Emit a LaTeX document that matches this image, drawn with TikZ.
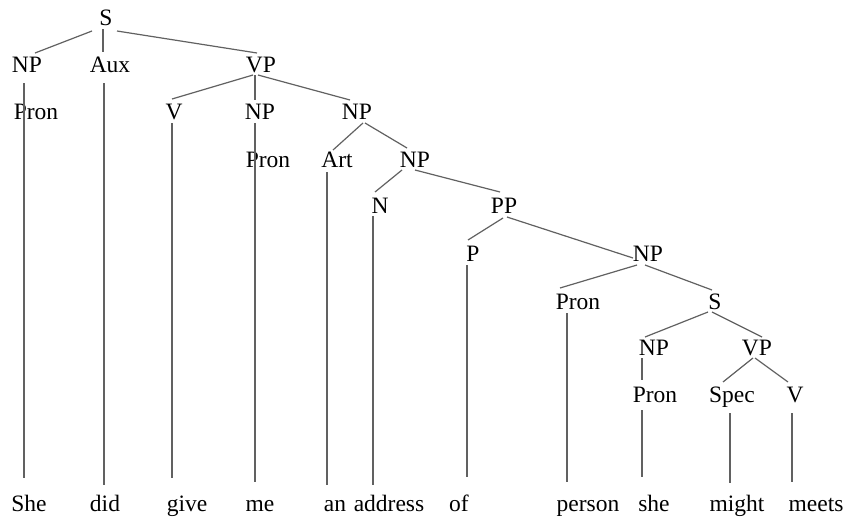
\documentclass[tikz,border=0pt]{standalone}
\usepackage{fontspec}
\setmainfont{Liberation Serif}
\begin{document}
\begin{tikzpicture}[x=1pt,y=-1pt,
  lab/.style={font=\fontsize{23.5}{28}\selectfont, text=black, inner sep=0pt, anchor=base},
  branch/.style={draw=black!62, line width=1.2pt}]
\useasboundingbox[fill=white] (0,0) rectangle (845,517);

% category labels
\node[lab] (s0)    at (106,25)  {S};
\node[lab] (np1)   at (27,72)   {NP};
\node[lab] (aux)   at (110,72)  {Aux};
\node[lab] (vp1)   at (261,72)  {VP};
\node[lab] (pron1) at (36,119)  {Pron};
\node[lab] (v1)    at (174,119) {V};
\node[lab] (np2)   at (260,119) {NP};
\node[lab] (np3)   at (357,119) {NP};
\node[lab] (pron2) at (268,167) {Pron};
\node[lab] (art)   at (337,167) {Art};
\node[lab] (np4)   at (415,167) {NP};
\node[lab] (nN)    at (380,213) {N};
\node[lab] (pp)    at (504,213) {PP};
\node[lab] (pP)    at (473,261) {P};
\node[lab] (np5)   at (648,261) {NP};
\node[lab] (pron3) at (578,309) {Pron};
\node[lab] (s2)    at (715,309) {S};
\node[lab] (np6)   at (654,355) {NP};
\node[lab] (vp2)   at (757,355) {VP};
\node[lab] (pron4) at (655,402) {Pron};
\node[lab] (spec)  at (732,402) {Spec};
\node[lab] (v2)    at (795,402) {V};

% words
\node[lab] (w1)  at (29,511)  {She};
\node[lab] (w2)  at (105,511) {did};
\node[lab] (w3)  at (187,511) {give};
\node[lab] (w4)  at (260,511) {me};
\node[lab] (w5)  at (335,511) {an};
\node[lab] (w6)  at (389,511) {address};
\node[lab] (w7)  at (459,511) {of};
\node[lab] (w8)  at (588,511) {person};
\node[lab] (w9)  at (654,511) {she};
\node[lab] (w10) at (737,511) {might};
\node[lab] (w11) at (816,511) {meets};

% branches
\draw[branch] ([xshift=-14pt,yshift=-6pt]s0.base) -- ([xshift=8pt,yshift=19pt]np1.base);
\draw[branch] ([xshift=-3pt,yshift=-4pt]s0.base) -- ([xshift=-7pt,yshift=20pt]aux.base);
\draw[branch] ([xshift=11pt,yshift=-6pt]s0.base) -- ([xshift=-4pt,yshift=19pt]vp1.base);
\draw[branch] ([xshift=-8pt,yshift=-3pt]vp1.base) -- ([xshift=-2pt,yshift=20pt]v1.base);
\draw[branch] ([xshift=-6pt,yshift=-3pt]vp1.base) -- ([xshift=-5pt,yshift=19pt]np2.base);
\draw[branch] ([xshift=-3pt,yshift=-3pt]vp1.base) -- ([xshift=-7pt,yshift=19pt]np3.base);
\draw[branch] ([xshift=6pt,yshift=-4pt]np3.base) -- ([xshift=-4pt,yshift=17pt]art.base);
\draw[branch] ([xshift=8pt,yshift=-4pt]np3.base) -- ([xshift=-8pt,yshift=19pt]np4.base);
\draw[branch] ([xshift=-13pt,yshift=-3pt]np4.base) -- ([xshift=-5pt,yshift=21pt]nN.base);
\draw[branch] ([xshift=0pt,yshift=-3pt]np4.base) -- ([xshift=-4pt,yshift=21pt]pp.base);
\draw[branch] ([xshift=-1pt,yshift=-5pt]pp.base) -- ([xshift=-5pt,yshift=21pt]pP.base);
\draw[branch] ([xshift=3pt,yshift=-4pt]pp.base) -- ([xshift=-15pt,yshift=3pt]np5.base);
\draw[branch] ([xshift=-11pt,yshift=-4pt]np5.base) -- ([xshift=-18pt,yshift=21pt]pron3.base);
\draw[branch] ([xshift=-3pt,yshift=-4pt]np5.base) -- ([xshift=-3pt,yshift=19pt]s2.base);
\draw[branch] ([xshift=-7pt,yshift=-3pt]s2.base) -- ([xshift=-9pt,yshift=18pt]np6.base);
\draw[branch] ([xshift=-3pt,yshift=-3pt]s2.base) -- ([xshift=5pt,yshift=18pt]vp2.base);
\draw[branch] ([xshift=-12pt,yshift=-3pt]np6.base) -- ([xshift=-13pt,yshift=22pt]pron4.base);
\draw[branch] ([xshift=-4pt,yshift=-3pt]vp2.base) -- ([xshift=-9pt,yshift=20pt]spec.base);
\draw[branch] ([xshift=-2pt,yshift=-3pt]vp2.base) -- ([xshift=-7pt,yshift=20pt]v2.base);

% lines down to the words
\draw[branch, shorten >=33pt] ([xshift=-3pt,yshift=-11pt]np1.base) coordinate (t1) -- (t1 |- w1.base);
\draw[branch, shorten >=26pt] ([xshift=-6pt,yshift=-11pt]aux.base) coordinate (t2) -- (t2 |- w2.base);
\draw[branch, shorten >=33pt] ([xshift=-2pt,yshift=-4pt]v1.base) coordinate (t3) -- (t3 |- w3.base);
\draw[branch, shorten >=29pt] ([xshift=-5pt,yshift=-4pt]np2.base) coordinate (t4) -- (t4 |- w4.base);
\draw[branch, shorten >=26pt] ([xshift=-10pt,yshift=-5pt]art.base) coordinate (t5) -- (t5 |- w5.base);
\draw[branch, shorten >=26pt] ([xshift=-7pt,yshift=-3pt]nN.base) coordinate (t6) -- (t6 |- w6.base);
\draw[branch, shorten >=34pt] ([xshift=-6pt,yshift=-4pt]pP.base) coordinate (t7) -- (t7 |- w7.base);
\draw[branch, shorten >=29pt] ([xshift=-11pt,yshift=-4pt]pron3.base) coordinate (t8) -- (t8 |- w8.base);
\draw[branch, shorten >=34pt] ([xshift=-13pt,yshift=-8pt]pron4.base) coordinate (t9) -- (t9 |- w9.base);
\draw[branch, shorten >=28pt] ([xshift=-2pt,yshift=-11pt]spec.base) coordinate (t10) -- (t10 |- w10.base);
\draw[branch, shorten >=29pt] ([xshift=-3pt,yshift=-11pt]v2.base) coordinate (t11) -- (t11 |- w11.base);
\end{tikzpicture}
\end{document}
